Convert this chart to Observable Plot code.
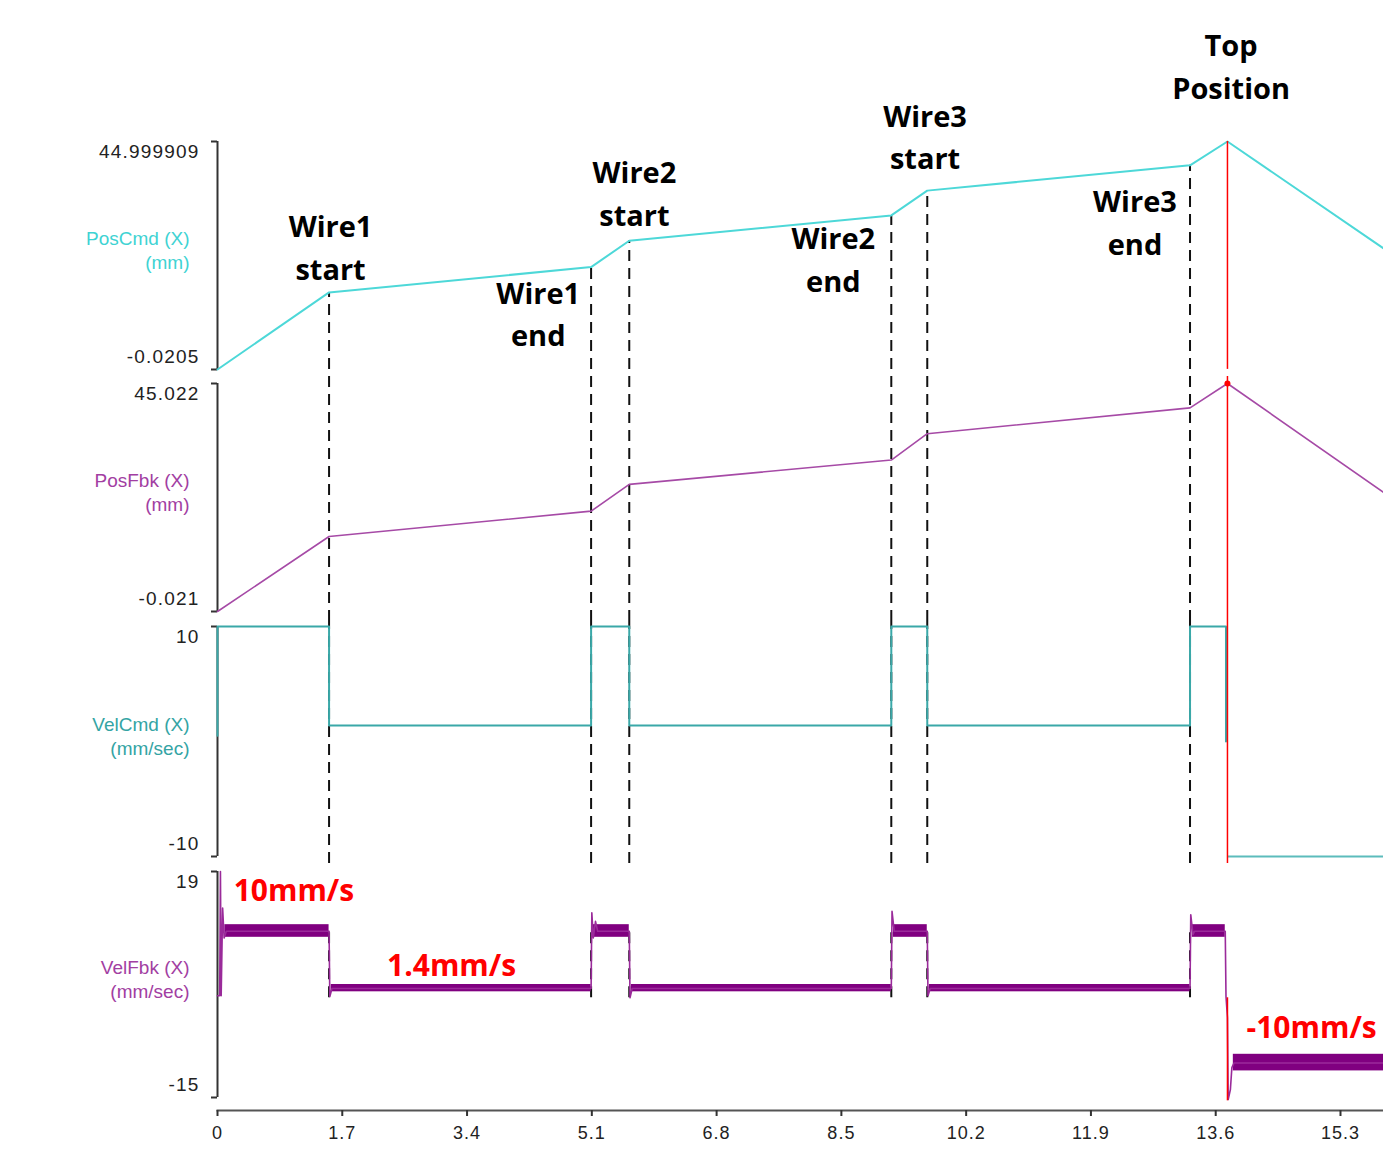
<!DOCTYPE html>
<html>
<head>
<meta charset="utf-8">
<script src="https://cdn.jsdelivr.net/npm/d3@7"></script>
<script src="https://cdn.jsdelivr.net/npm/@observablehq/plot@0.6"></script>
<style>
html, body { margin: 0; padding: 0; background: #fff; overflow: hidden; }
#chart { position: relative; width: 1383px; height: 1151px; }
#chart svg { display: block; overflow: visible; }
g[aria-label="y-axis tick label"] text { letter-spacing: 1.2px; }
g[aria-label="x-axis tick label"] text { letter-spacing: 1px; }
g[aria-label="panel label"] text { letter-spacing: 1.8px; }
</style>
</head>
<body>
<div id="chart"></div>
<script>
// ---------------- data ----------------
const X_MAX = 15.886;
const X_TICKS = [0, 1.7, 3.4, 5.1, 6.8, 8.5, 10.2, 11.9, 13.6, 15.3];
const X_TICK_LABELS = ["0", "1.7", "3.4", "5.1", "6.8", "8.5", "10.2", "11.9", "13.6", "15.3"];

// events (s)
const EVENT_T = [1.52, 5.09, 5.61, 9.18, 9.67, 13.25];
const TOP_T = 13.76;

// position (mm)
const POS_T   = [0, 1.52, 5.09, 5.61, 9.18, 9.67, 13.25, 13.76, 15.886];
const POS_CMD = [-0.0205, 15.2, 20.2, 25.4, 30.4, 35.3, 40.3, 44.999909, 23.9];
const POS_FBK = [-0.021, 14.8, 19.8, 25.1, 29.9, 35.1, 40.2, 45.022, 23.5];

// panel ranges and labels
const POSCMD_DOMAIN = [-0.0205, 44.999909];
const POSCMD_TICKS = ["-0.0205", "44.999909"];
const POSFBK_DOMAIN = [-0.021, 45.022];
const POSFBK_TICKS = ["-0.021", "45.022"];
const VELCMD_DOMAIN = [-10, 10];
const VELCMD_TICKS = ["-10", "10"];
const VELFBK_DOMAIN = [-15, 19];
const VELFBK_TICKS = ["-15", "19"];

// velocity command (mm/sec), step-after
const VELCMD_T = [0, 0, 1.52, 5.09, 5.61, 9.18, 9.67, 13.25, 13.74];
const VELCMD_V = [0.5, 10, 1.4, 10, 1.4, 10, 1.4, 10, 0];
const VELCMD_RET_T = [13.77, 15.886];
const VELCMD_RET_V = [-10, -10];

// velocity feedback (mm/sec): mean trace with transients
const VELFBK_T = [0, 0.03, 0.04, 0.05, 0.07, 0.09, 0.12, 1.52, 1.53, 1.56,
  5.09, 5.10, 5.12, 5.15, 5.18, 5.61, 5.62, 5.65,
  9.18, 9.19, 9.22, 9.67, 9.68, 9.71,
  13.25, 13.26, 13.29, 13.31, 13.73, 13.74, 13.76, 13.77, 13.80, 13.82, 13.85, 15.886];
const VELFBK_V = [0.3, 0.3, 19, 0.3, 13.5, 9, 10, 10, 0.2, 1.4,
  1.4, 12.8, 9, 11.5, 10, 10, 0.0, 1.4,
  1.4, 13, 10, 10, 0.3, 1.4,
  1.4, 12.5, 9.5, 10, 10, 0.2, -3, -15.3, -13.8, -10.5, -9.8, -9.8];
// noise band of velocity feedback
const BAND_T0 = [0.10, 1.55, 5.12, 5.64, 9.21, 9.70, 13.28, 13.84];
const BAND_T1 = [1.52, 5.09, 5.61, 9.18, 9.67, 13.25, 13.73, 15.886];
const BAND_LO = [9.1, 0.9, 9.1, 0.9, 9.1, 0.9, 9.1, -11.0];
const BAND_HI = [11.0, 2.0, 11.0, 2.0, 11.0, 2.0, 11.0, -8.5];

// annotations
const NOTE_TEXT = ["Wire1\nstart", "Wire1\nend", "Wire2\nstart", "Wire2\nend", "Wire3\nstart", "Wire3\nend", "Top\nPosition"];
const NOTE_T  = [1.54, 4.37, 5.68, 8.39, 9.64, 12.50, 13.81];
const NOTE_MM = [23.8, 10.7, 34.5, 21.4, 45.6, 28.7, 59.6];

const SPEED_TEXT = ["10mm/s", "1.4mm/s", "-10mm/s"];
const SPEED_T = [0.22, 2.31, 14.02];
const SPEED_V = [16.0, 4.7, -4.6];

// ---------------- styling ----------------
const W = 1383, ML = 217;
const C_POSCMD = "#4dd8d8", C_POSCMD_LBL = "#3fd3d3";
const C_POSFBK = "#a64aa6", C_POSFBK_LBL = "#a23ea2";
const C_VELCMD = "#3aa8a8", C_VELCMD_LBL = "#34a4a4";
const C_VELFBK = "#800080", C_VELFBK_LINE = "#9a2a9a", C_VELFBK_LBL = "#a23ea2";
const AXIS = "#333";
const DASH = "11,7";
const FONT = "'Liberation Sans', Arial, sans-serif";

const posData = POS_T.map((t, i) => ({t, cmd: POS_CMD[i], fbk: POS_FBK[i]}));
const eventData = EVENT_T.map((t, i) => ({t, cmd: POS_CMD[i + 1]}));
const velCmd = VELCMD_T.map((t, i) => ({t, v: VELCMD_V[i]}));
const velCmdRet = VELCMD_RET_T.map((t, i) => ({t, v: VELCMD_RET_V[i]}));
const velFbk = VELFBK_T.map((t, i) => ({t, v: VELFBK_V[i]}));
const band = BAND_T0.map((t0, i) => ({t0, t1: BAND_T1[i], lo: BAND_LO[i], hi: BAND_HI[i]}));
const notes = NOTE_TEXT.map((s, i) => ({s, t: NOTE_T[i], y: NOTE_MM[i]}));
const speeds = SPEED_TEXT.map((s, i) => ({s, t: SPEED_T[i], y: SPEED_V[i]}));

function panel({height, range, domain, ticks, label, labelColor, marginBottom = 0, xAxis = false, marks}) {
  return Plot.plot({
    width: W, height,
    marginLeft: ML, marginRight: 0, marginTop: 0, marginBottom,
    x: {domain: [0, X_MAX], axis: xAxis ? undefined : null},
    y: {domain, range},
    style: {fontFamily: FONT, fontSize: "19px", background: "white", overflow: "visible"},
    marks: [
      Plot.ruleX([0], {y1: domain[0], y2: domain[1], stroke: AXIS, strokeWidth: 2}),
      Plot.axisY({ticks: domain, tickSize: 6, fill: "none", stroke: AXIS, strokeWidth: 2, label: null}),
      Plot.axisY({ticks: [domain[1]], tickSize: 0, tickPadding: 18, dy: 10, tickFormat: () => ticks[1], fill: "#222", label: null}),
      Plot.axisY({ticks: [domain[0]], tickSize: 0, tickPadding: 18, dy: -13, tickFormat: () => ticks[0], fill: "#222", label: null}),
      Plot.text([label], {x: 0, y: (domain[0] + domain[1]) / 2, text: d => d, textAnchor: "end",
        dx: -28, dy: -6, fill: labelColor, lineHeight: 1.22, ariaLabel: "panel label"}),
      ...marks
    ]
  });
}

const chart = document.getElementById("chart");

// Panel 1: PosCmd
chart.append(panel({
  height: 376, range: [369, 141], domain: POSCMD_DOMAIN, ticks: POSCMD_TICKS,
  label: "PosCmd (X)\n(mm)", labelColor: C_POSCMD_LBL,
  marks: [
    Plot.ruleX(eventData, {x: "t", y1: "cmd", stroke: "#111", strokeWidth: 2, strokeDasharray: DASH}),
    Plot.line(posData, {x: "t", y: "cmd", stroke: C_POSCMD, strokeWidth: 2}),
    Plot.ruleX([TOP_T], {x: d => d, y1: POSCMD_DOMAIN[1], stroke: "#ff0000", strokeWidth: 1.5}),
    Plot.text(notes, {x: "t", y: "y", text: "s", fontFamily: "'Open Sans', sans-serif", fontWeight: "bold",
      fontSize: 29, lineHeight: 1.47, fill: "#000", textAnchor: "middle", dy: -4})
  ]
}));

// Panel 2: PosFbk
chart.append(panel({
  height: 242, range: [235, 7], domain: POSFBK_DOMAIN, ticks: POSFBK_TICKS,
  label: "PosFbk (X)\n(mm)", labelColor: C_POSFBK_LBL,
  marks: [
    Plot.ruleX(eventData, {x: "t", stroke: "#111", strokeWidth: 2, strokeDasharray: DASH}),
    Plot.line(posData, {x: "t", y: "fbk", stroke: C_POSFBK, strokeWidth: 1.6}),
    Plot.ruleX([TOP_T], {x: d => d, stroke: "#ff0000", strokeWidth: 1.5}),
    Plot.dot([TOP_T], {x: d => d, y: POSFBK_DOMAIN[1], r: 3, fill: "#ff0000", stroke: "none"})
  ]
}));

// Panel 3: VelCmd
chart.append(panel({
  height: 245, range: [238, 8], domain: VELCMD_DOMAIN, ticks: VELCMD_TICKS,
  label: "VelCmd (X)\n(mm/sec)", labelColor: C_VELCMD_LBL,
  marks: [
    Plot.ruleX(eventData, {x: "t", stroke: "#111", strokeWidth: 2, strokeDasharray: DASH}),
    Plot.line(velCmd, {x: "t", y: "v", curve: "step-after", stroke: C_VELCMD, strokeWidth: 2}),
    Plot.line(velCmdRet, {x: "t", y: "v", stroke: "#5cbcbc", strokeWidth: 2}),
    Plot.ruleX([TOP_T], {x: d => d, stroke: "#ff0000", strokeWidth: 1.5})
  ]
}));

// Panel 4: VelFbk + time axis
chart.append(panel({
  height: 288, range: [234, 8], domain: VELFBK_DOMAIN, ticks: VELFBK_TICKS, marginBottom: 41, xAxis: true,
  label: "VelFbk (X)\n(mm/sec)", labelColor: C_VELFBK_LBL,
  marks: [
    Plot.ruleX(eventData, {x: "t", y2: 10, stroke: "#111", strokeWidth: 2, strokeDasharray: DASH}),
    Plot.rect(band, {x1: "t0", x2: "t1", y1: "lo", y2: "hi", fill: C_VELFBK}),
    Plot.line(velFbk, {x: "t", y: "v", stroke: C_VELFBK_LINE, strokeWidth: 1.6}),
    Plot.ruleX([TOP_T], {x: d => d, y2: -15.5, stroke: "#ff0000", strokeWidth: 1.5}),
    Plot.text(speeds, {x: "t", y: "y", text: "s", textAnchor: "start", fontFamily: "'Open Sans', sans-serif",
      fontWeight: "bold", fontSize: 30, fill: "#ff0000"}),
    Plot.frame({anchor: "bottom", stroke: "#555", strokeWidth: 2}),
    Plot.axisX({ticks: X_TICKS, tickSize: 6, tickPadding: 10, stroke: AXIS, strokeWidth: 2, fill: "#222",
      fontSize: 18, tickFormat: (d, i) => X_TICK_LABELS[i], label: null})
  ]
}));
</script>
</body>
</html>
